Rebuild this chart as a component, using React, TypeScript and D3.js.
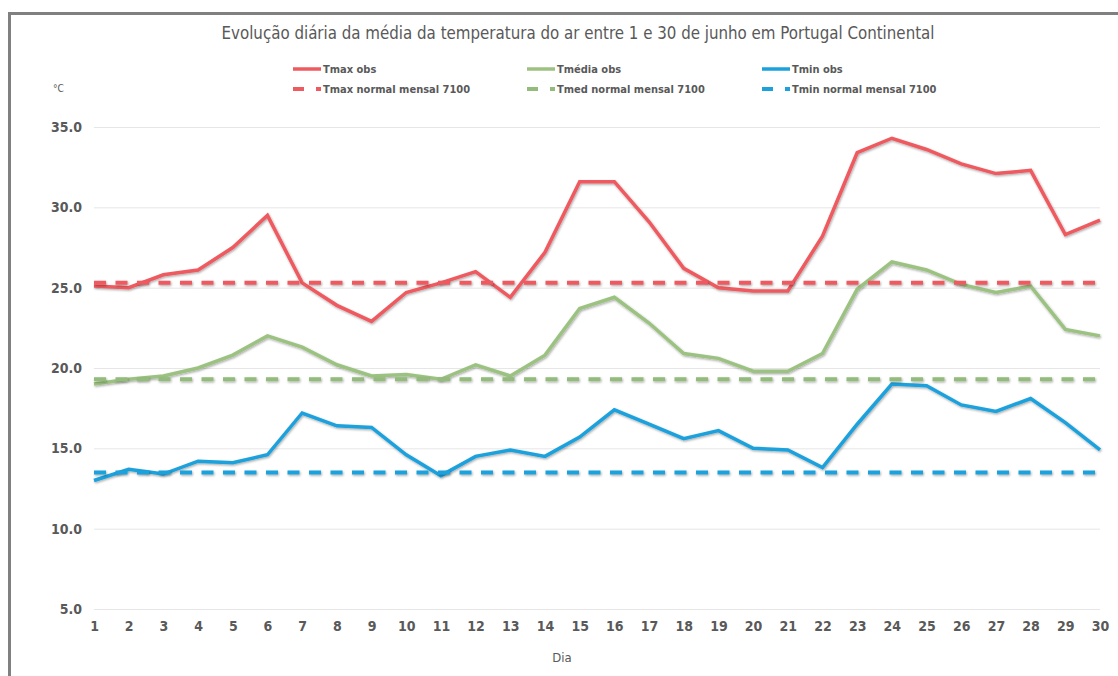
import React, { useEffect, useRef } from 'react';
import * as d3 from 'd3';

// days of June
const days = d3.range(1, 31);

// observed series (°C)
const tmaxObs = [25.1, 25.0, 25.8, 26.1, 27.5, 29.5, 25.3, 23.9, 22.9, 24.7, 25.3, 26.0, 24.4, 27.2, 31.6, 31.6, 29.1, 26.2, 25.0, 24.8, 24.8, 28.2, 33.4, 34.3, 33.6, 32.7, 32.1, 32.3, 28.3, 29.2];
const tmedObs = [19.0, 19.3, 19.5, 20.0, 20.8, 22.0, 21.3, 20.2, 19.5, 19.6, 19.3, 20.2, 19.5, 20.8, 23.7, 24.4, 22.8, 20.9, 20.6, 19.8, 19.8, 20.9, 24.9, 26.6, 26.1, 25.2, 24.7, 25.1, 22.4, 22.0];
const tminObs = [13.0, 13.7, 13.4, 14.2, 14.1, 14.6, 17.2, 16.4, 16.3, 14.6, 13.3, 14.5, 14.9, 14.5, 15.7, 17.4, 16.5, 15.6, 16.1, 15.0, 14.9, 13.8, 16.5, 19.0, 18.9, 17.7, 17.3, 18.1, 16.6, 14.9];

// monthly normals 71-00
const tmaxNormal = 25.3;
const tmedNormal = 19.3;
const tminNormal = 13.5;

const yTicks = [5, 10, 15, 20, 25, 30, 35];

const RED = '#ee5a5e';
const GREEN = '#9cc282';
const GREEN_DASH = '#93bb7c';
const BLUE = '#1ba1dc';
const TEXT = '#595959';
const FONT = '"Liberation Sans Narrow", "DejaVu Sans Condensed", "Open Sans", sans-serif';

export default function App() {
  const ref = useRef<SVGSVGElement>(null);

  useEffect(() => {
    const svg = d3.select(ref.current);
    svg.selectAll('*').remove();

    const x = d3.scaleLinear().domain([1, 30]).range([94, 1100]);
    const y = d3.scaleLinear().domain([5, 35]).range([609, 127]);

    // drop shadow like the spreadsheet lines (user space so flat lines still render)
    const defs = svg.append('defs');
    defs.append('filter')
      .attr('id', 'shadow')
      .attr('filterUnits', 'userSpaceOnUse')
      .attr('x', 0).attr('y', 0).attr('width', 1118).attr('height', 676)
      .append('feDropShadow')
      .attr('dx', 0.8).attr('dy', 1.2).attr('stdDeviation', 0.8)
      .attr('flood-color', '#000').attr('flood-opacity', 0.35);

    // frame
    svg.append('path')
      .attr('d', 'M9.5,676 L9.5,13.5 L1118,13.5')
      .attr('fill', 'none')
      .attr('stroke', '#808080')
      .attr('stroke-width', 3);

    // title
    svg.append('text')
      .attr('x', 578).attr('y', 39)
      .attr('text-anchor', 'middle')
      .attr('font-family', FONT)
      .attr('font-size', 17)
      .attr('fill', TEXT)
      .attr('textLength', 713)
      .attr('lengthAdjust', 'spacingAndGlyphs')
      .text('Evolução diária da média da temperatura do ar entre 1 e 30 de junho em Portugal Continental');

    // unit
    svg.append('text')
      .attr('x', 53).attr('y', 92)
      .attr('font-family', FONT).attr('font-size', 10)
      .attr('fill', TEXT)
      .text('°C');

    // y gridlines
    svg.append('g')
      .attr('transform', 'translate(94,0)')
      .call(d3.axisRight(y).tickValues(yTicks).tickSize(1006).tickFormat(() => ''))
      .call(g => g.select('.domain').remove())
      .call(g => g.selectAll('line').attr('stroke', '#e6e6e6').attr('stroke-width', 1));

    // y labels
    svg.append('g')
      .attr('transform', 'translate(82,0)')
      .call(d3.axisLeft(y).tickValues(yTicks).tickSize(0).tickPadding(0).tickFormat(d3.format('.1f')))
      .call(g => g.select('.domain').remove())
      .call(g => g.selectAll('text')
        .attr('font-family', FONT).attr('font-size', 14).attr('font-weight', 'bold')
        .attr('fill', TEXT));

    // x labels
    svg.append('g')
      .attr('transform', 'translate(0,621)')
      .call(d3.axisBottom(x).tickValues(days).tickSize(0).tickPadding(0).tickFormat(d3.format('d')))
      .call(g => g.select('.domain').remove())
      .call(g => g.selectAll('text')
        .attr('font-family', FONT).attr('font-size', 14).attr('font-weight', 'bold')
        .attr('fill', TEXT));

    svg.append('text')
      .attr('x', 562).attr('y', 662)
      .attr('text-anchor', 'middle')
      .attr('font-family', FONT).attr('font-size', 13)
      .attr('fill', TEXT)
      .text('Dia');

    const line = d3.line<number>()
      .x((_, i) => x(days[i]))
      .y(d => y(d));

    // observed lines first, normals drawn over them
    const series = [
      { d: tmaxObs, c: RED },
      { d: tmedObs, c: GREEN },
      { d: tminObs, c: BLUE },
    ];
    series.forEach(s => {
      svg.append('path')
        .datum(s.d)
        .attr('d', line)
        .attr('fill', 'none')
        .attr('stroke', s.c)
        .attr('stroke-width', 3.5)
        .attr('stroke-linejoin', 'miter')
        .attr('filter', 'url(#shadow)');
    });

    const normals = [
      { v: tmaxNormal, c: RED },
      { v: tmedNormal, c: GREEN_DASH },
      { v: tminNormal, c: BLUE },
    ];
    normals.forEach(n => {
      svg.append('line')
        .attr('x1', x(1)).attr('x2', x(30))
        .attr('y1', y(n.v)).attr('y2', y(n.v))
        .attr('stroke', n.c)
        .attr('stroke-width', 4)
        .attr('stroke-dasharray', '12,9.5')
        .attr('filter', 'url(#shadow)');
    });

    // legend
    const legend = [
      { name: 'Tmax obs', c: RED, dash: false, lx: 293, ly: 69 },
      { name: 'Tmédia obs', c: GREEN, dash: false, lx: 527, ly: 69 },
      { name: 'Tmin obs', c: BLUE, dash: false, lx: 762, ly: 69 },
      { name: 'Tmax normal mensal 7100', c: RED, dash: true, lx: 293, ly: 89 },
      { name: 'Tmed normal mensal 7100', c: GREEN_DASH, dash: true, lx: 527, ly: 89 },
      { name: 'Tmin normal mensal 7100', c: BLUE, dash: true, lx: 762, ly: 89 },
    ];
    legend.forEach(l => {
      svg.append('line')
        .attr('x1', l.lx).attr('x2', l.lx + 28)
        .attr('y1', l.ly).attr('y2', l.ly)
        .attr('stroke', l.c)
        .attr('stroke-width', l.dash ? 4 : 3.5)
        .attr('stroke-dasharray', l.dash ? '11,12' : null);
      svg.append('text')
        .attr('x', l.lx + 30).attr('y', l.ly + 4)
        .attr('font-family', FONT).attr('font-size', 11).attr('font-weight', 'bold')
        .attr('fill', TEXT)
        .text(l.name);
    });
  }, []);

  return (
    <svg ref={ref} width={1118} height={676}
      style={{ position: 'absolute', left: 0, top: 0, background: '#fff' }} />
  );
}
